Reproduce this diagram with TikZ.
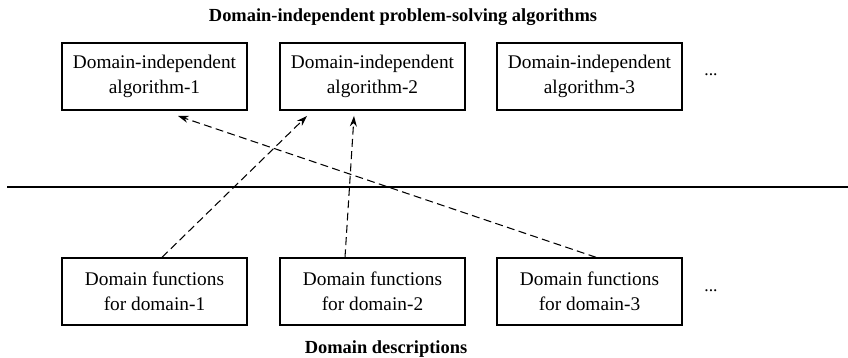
\documentclass[tikz,border=0pt]{standalone}
\usepackage{fontspec}
\setmainfont{Liberation Serif}
\usetikzlibrary{arrows.meta}
\tikzset{
	algbox/.style={draw, line width=0.8pt, minimum width=3.7cm, minimum height=1.34cm, align=center, font=\fontsize{11}{14}\selectfont},
	dashlink/.style={dashed, dash pattern=on 4.5pt off 2.5pt, line width=0.6pt, -{Stealth[length=6pt,width=4pt]}},
	heading/.style={font=\fontsize{10.5}{12}\selectfont\bfseries}
}

\begin{document}
\begin{tikzpicture}[x=0.02cm, y=-0.02cm]
		%%%%% START %%%%%
		\useasboundingbox (0, 0) rectangle (848, 358);
		
		\node[heading] (toptitle) at (403, 17) {Domain-independent problem-solving algorithms};
		
		\node[algbox] (alg1) at (154.5, 76.5) {Domain-independent\\algorithm-1};
		\node[algbox] (alg2) at (372.5, 76.5) {Domain-independent\\algorithm-2};
		\node[algbox] (alg3) at (589.5, 76.5) {Domain-independent\\algorithm-3};
		\node (topdots) at (711, 75) {...};
		
		\draw[line width=0.8pt] (7, 187) -- (848, 187);
		
		\node[algbox] (dom1) at (154.5, 291.5) {Domain functions\\for domain-1};
		\node[algbox] (dom2) at (372.5, 291.5) {Domain functions\\for domain-2};
		\node[algbox] (dom3) at (589.5, 291.5) {Domain functions\\for domain-3};
		\node (botdots) at (711, 291) {...};
		
		\node[heading] (bottitle) at (386, 349) {Domain descriptions};
		
		\draw[dashlink] ([xshift=0.15cm]dom1.north) -- ([xshift=-1.31cm, yshift=-3pt]alg2.south);
		\draw[dashlink] ([xshift=-0.55cm]dom2.north) -- ([xshift=-0.37cm, yshift=-3pt]alg2.south);
		\draw[dashlink] ([xshift=0.13cm]dom3.north) -- ([xshift=0.47cm, yshift=-3pt]alg1.south);
		
		%%%%% END %%%%%
	\end{tikzpicture}
\end{document}
